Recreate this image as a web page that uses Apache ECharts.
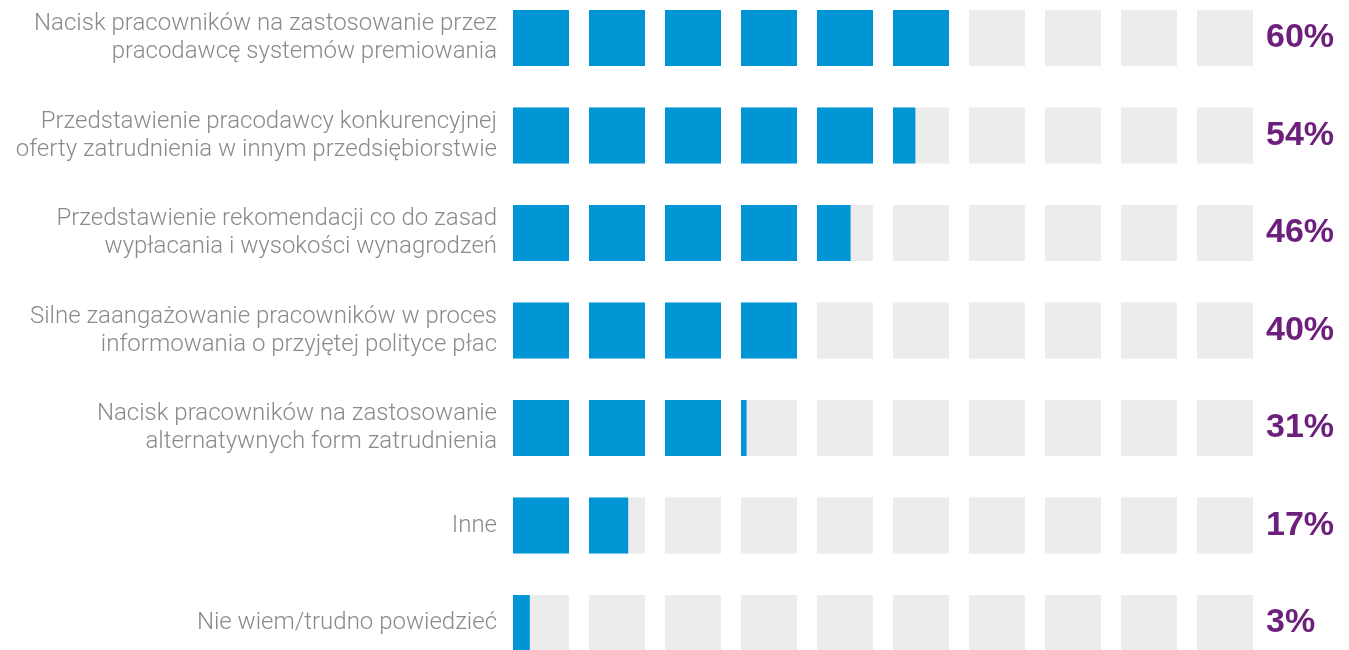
<!DOCTYPE html>
<html>
<head>
<meta charset="utf-8">
<script src="https://cdn.jsdelivr.net/npm/echarts@6/dist/echarts.min.js"></script>
<style>
  html, body { margin: 0; padding: 0; background: #fff; }
  #chart { width: 1349px; height: 650px; }
</style>
</head>
<body>
<div id="chart"></div>
<script>
// answers, top to bottom
var categories = [
    'Nacisk pracowników na zastosowanie przez\npracodawcę systemów premiowania',
    'Przedstawienie pracodawcy konkurencyjnej\noferty zatrudnienia w innym przedsiębiorstwie',
    'Przedstawienie rekomendacji co do zasad\nwypłacania i wysokości wynagrodzeń',
    'Silne zaangażowanie pracowników w proces\ninformowania o przyjętej polityce płac',
    'Nacisk pracowników na zastosowanie\nalternatywnych form zatrudnienia',
    'Inne',
    'Nie wiem/trudno powiedzieć'
];
var values = [60, 54, 46, 40, 31, 17, 3];

var BLUE = '#0096d6';
var GREY = '#ececec';
var SQUARE_RATIO = 56 / 76;   // square size vs. slot of 10%

var myChart = echarts.init(document.getElementById('chart'));

var option = {
    animation: false,
    grid: {
        left: 513,
        width: 760,
        top: 38,
        bottom: 27
    },
    xAxis: {
        type: 'value',
        min: 0,
        max: 100,
        show: false
    },
    yAxis: [
        {
            type: 'category',
            data: categories,
            inverse: true,
            boundaryGap: false,
            axisLine: {show: false},
            axisTick: {show: false},
            splitLine: {show: false},
            axisLabel: {
                margin: 16,
                fontFamily: 'Roboto',
                fontWeight: 300,
                fontSize: 24,
                lineHeight: 28,
                color: '#8a8a8a',
                align: 'right'
            }
        },
        {
            type: 'category',
            data: values.map(function (v) { return v + '%'; }),
            inverse: true,
            boundaryGap: false,
            position: 'right',
            axisLine: {show: false},
            axisTick: {show: false},
            splitLine: {show: false},
            axisLabel: {
                margin: -7,
                fontFamily: 'Liberation Sans',
                fontWeight: 'bold',
                fontSize: 34,
                color: '#6d1f7c'
            }
        }
    ],
    series: [
        {
            type: 'custom',
            yAxisIndex: 0,
            encode: {x: 0, y: 1},
            data: values.map(function (v, i) { return [v, i]; }),
            renderItem: function (params, api) {
                var pct = api.value(0);
                var row = api.value(1);
                var slot = api.size([10, 0])[0];
                var sq = slot * SQUARE_RATIO;
                var children = [];
                for (var i = 0; i < 10; i++) {
                    var p = api.coord([i * 10, row]);
                    var x = p[0];
                    var y = p[1] - sq / 2;
                    children.push({
                        type: 'rect',
                        shape: {x: x, y: y, width: sq, height: sq},
                        style: {fill: GREY}
                    });
                    var frac = Math.max(0, Math.min(1, (pct - i * 10) / 10));
                    if (frac > 0) {
                        children.push({
                            type: 'rect',
                            shape: {x: x, y: y, width: sq * frac, height: sq},
                            style: {fill: BLUE}
                        });
                    }
                }
                return {type: 'group', children: children};
            }
        }
    ]
};
myChart.setOption(option);
</script>
</body>
</html>
